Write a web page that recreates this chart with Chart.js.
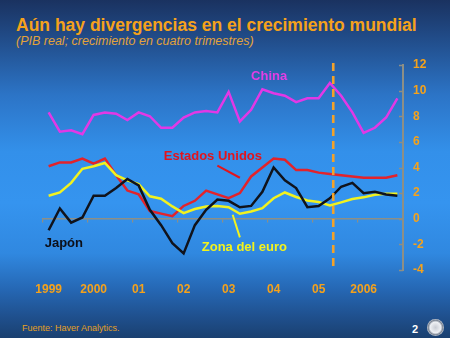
<!DOCTYPE html>
<html>
<head>
<meta charset="utf-8">
<script src="https://cdn.jsdelivr.net/npm/chart.js@4.4.0/dist/chart.umd.min.js"></script>
<style>
html,body{margin:0;padding:0;width:450px;height:338px;overflow:hidden;}
body{position:relative;font-family:"Liberation Sans",Arial,sans-serif;
background:linear-gradient(to bottom,#1a3260 0%,#22508f 13%,#2c74c6 28%,#3390ea 45%,#3594ef 60%,#3088e0 75%,#2566b2 86%,#1f4f8c 94%,#1a4070 100%);}
#title{position:absolute;left:16px;top:15px;font-size:17.5px;line-height:20px;font-weight:bold;color:#f5a21b;white-space:nowrap;}
#sub{position:absolute;left:16px;top:34px;font-size:12.5px;line-height:15px;font-style:italic;color:#e3a33a;white-space:nowrap;}
#src{position:absolute;left:22px;top:323px;font-size:9px;line-height:11px;color:#e5a021;white-space:nowrap;}
#pg{position:absolute;left:412px;top:322.5px;font-size:11px;line-height:13px;font-weight:bold;color:#ffffff;}
#logo{position:absolute;left:427px;top:319px;width:17px;height:17px;border-radius:50%;background:radial-gradient(circle,#c8ccd4 0%,#eef0f4 45%,#7d8796 60%,#e8eaee 75%,#9aa3b0 100%);}
#wrap{position:absolute;left:0;top:0;width:450px;height:338px;}
</style>
</head>
<body>
<div id="title">Aún hay divergencias en el crecimiento mundial</div>
<div id="sub">(PIB real; crecimiento en cuatro trimestres)</div>
<div id="src">Fuente: Haver Analytics.</div>
<div id="pg">2</div>
<div id="logo"></div>
<div id="wrap"><canvas id="c" width="450" height="338"></canvas></div>
<script>
// ---- categories (quarters) ----
const quarters = [
  '1999T1','1999T2','1999T3','1999T4',
  '2000T1','2000T2','2000T3','2000T4',
  '2001T1','2001T2','2001T3','2001T4',
  '2002T1','2002T2','2002T3','2002T4',
  '2003T1','2003T2','2003T3','2003T4',
  '2004T1','2004T2','2004T3','2004T4',
  '2005T1','2005T2','2005T3','2005T4',
  '2006T1','2006T2','2006T3','2006T4'
];
const yearLabels = ['1999','2000','01','02','03','04','05','2006'];
const yTicks = [-4,-2,0,2,4,6,8,10,12];

// ---- series values ----
const china = [8.3,6.8,6.9,6.6,8.1,8.3,8.2,7.7, 8.3,8.0,7.1,7.1,7.9,8.3,8.4,8.3, 9.9,7.6,8.5,10.1,9.8,9.6,9.1,9.4, 9.4,10.6,9.6,8.3,6.7,7.1,7.9,9.4];
const estadosUnidos = [4.1,4.4,4.4,4.7,4.3,4.7,3.4,2.2, 1.9,0.6,0.4,0.2,1.0,1.4,2.2,1.9, 1.6,2.0,3.3,4.0,4.7,4.6,3.8,3.8, 3.6,3.5,3.4,3.3,3.2,3.2,3.2,3.4];
const zonaEuro = [1.8,2.05,2.8,3.9,4.1,4.35,3.4,3.0, 2.7,1.75,1.56,0.96,0.44,0.76,0.96,1.0, 0.9,0.39,0.57,0.83,1.6,2.05,1.7,1.43, 1.3,1.04,1.28,1.54,1.67,1.88,1.95,1.95];
const japon = [-0.9,0.8,-0.3,0.1,1.8,1.8,2.4,3.1, 2.6,0.7,-0.5,-1.9,-2.7,-0.5,0.7,1.5, 1.4,0.9,1.0,2.1,4.0,3.0,2.4,0.9, 1.0,1.6,2.5,2.8,2.0,2.1,1.9,1.8];

// projection boundary (category index, fractional)
const projectionStart = 25.3;

const ORANGE = '#f5a21b';
const AXIS = '#8d8f86';
const C_CHINA = '#e238e6', C_US = '#e3232b', C_EURO = '#f1f21f', C_JP = '#10131c';

// annotations in data space: [categoryIndex, value]
const notes = [
  {text:'China', color:'#e33ee4', at:[19.6,11.1]},
  {text:'Estados Unidos', color:'#e3141c', at:[14.6,4.85], arrow:[[15.0,4.14],[17.0,3.2]]},
  {text:'Zona del euro', color:'#f3f31c', at:[17.4,-2.2], arrow:[[16.36,0.31],[17.0,-1.45]]},
  {text:'Japón', color:'#0c0f18', at:[1.35,-1.95]}
];

const overlay = {
  id:'overlay',
  afterDatasetsDraw(chart){
    const ctx = chart.ctx, x = chart.scales.x, y = chart.scales.y, a = chart.chartArea;
    ctx.save();
    // inner tick marks on right axis
    ctx.strokeStyle = AXIS; ctx.lineWidth = 1.5;
    yTicks.forEach(v=>{
      const py = Math.round(y.getPixelForValue(v))+0.5;
      ctx.beginPath(); ctx.moveTo(a.right-4,py); ctx.lineTo(a.right,py); ctx.stroke();
    });
    // projection dashed line
    const px = x.getPixelForValue(projectionStart);
    ctx.strokeStyle = '#f2a22a'; ctx.lineWidth = 2.6; ctx.setLineDash([8,5]);
    ctx.beginPath(); ctx.moveTo(px,a.top-2); ctx.lineTo(px,a.bottom); ctx.stroke();
    ctx.setLineDash([]);
    // annotations
    ctx.font = 'bold 13px "Liberation Sans", Arial, sans-serif';
    ctx.textAlign = 'center'; ctx.textBaseline = 'middle';
    notes.forEach(n=>{
      if(n.arrow){
        ctx.strokeStyle = n.color; ctx.lineWidth = 2;
        ctx.beginPath();
        ctx.moveTo(x.getPixelForValue(n.arrow[0][0]), y.getPixelForValue(n.arrow[0][1]));
        ctx.lineTo(x.getPixelForValue(n.arrow[1][0]), y.getPixelForValue(n.arrow[1][1]));
        ctx.stroke();
      }
      ctx.fillStyle = n.color;
      ctx.fillText(n.text, x.getPixelForValue(n.at[0]), y.getPixelForValue(n.at[1]));
    });
    ctx.restore();
  }
};

const ds = (label, data, color) => ({label, data, borderColor:color, backgroundColor:color, borderWidth:2.5, pointRadius:0, tension:0, fill:false});

new Chart(document.getElementById('c'), {
  type:'line',
  data:{
    labels: quarters,
    datasets:[
      ds('Japón', japon, C_JP),
      ds('Zona del euro', zonaEuro, C_EURO),
      ds('Estados Unidos', estadosUnidos, C_US),
      ds('China', china, C_CHINA)
    ]
  },
  options:{
    responsive:false, animation:false, devicePixelRatio:1,
    layout:{padding:{left:43, top:65, right:0, bottom:0}},
    plugins:{legend:{display:false}, tooltip:{enabled:false}},
    scales:{
      x:{
        type:'category', position:'bottom', offset:true,
        grid:{display:false, drawTicks:false}, border:{display:false},
        ticks:{autoSkip:false, maxRotation:0, minRotation:0, padding:12,
          color:ORANGE, font:{family:'"Liberation Sans", Arial, sans-serif', size:12, weight:'bold'},
          callback:(v,i)=> i%4===0 ? yearLabels[i/4] : ''},
        afterFit:(s)=>{ s.height = 68; }
      },
      x2:{
        type:'category', position:{y:0}, offset:true,
        ticks:{display:false},
        grid:{display:true, offset:true, drawOnChartArea:false, drawTicks:true, tickLength:3,
          color:(c)=> c.index%4===0 ? AXIS : 'rgba(0,0,0,0)', lineWidth:1.2},
        border:{display:true, color:AXIS, width:1.5}
      },
      y:{
        type:'linear', position:'right', min:-4, max:12,
        afterBuildTicks:(s)=>{ s.ticks = yTicks.map(v=>({value:v})); },
        grid:{display:false, drawTicks:false},
        border:{display:true, color:AXIS, width:2},
        ticks:{padding:10, color:ORANGE, font:{family:'"Liberation Sans", Arial, sans-serif', size:12, weight:'bold'}},
        afterFit:(s)=>{ s.width = 47; }
      }
    }
  },
  plugins:[overlay]
});
</script>
</body>
</html>
